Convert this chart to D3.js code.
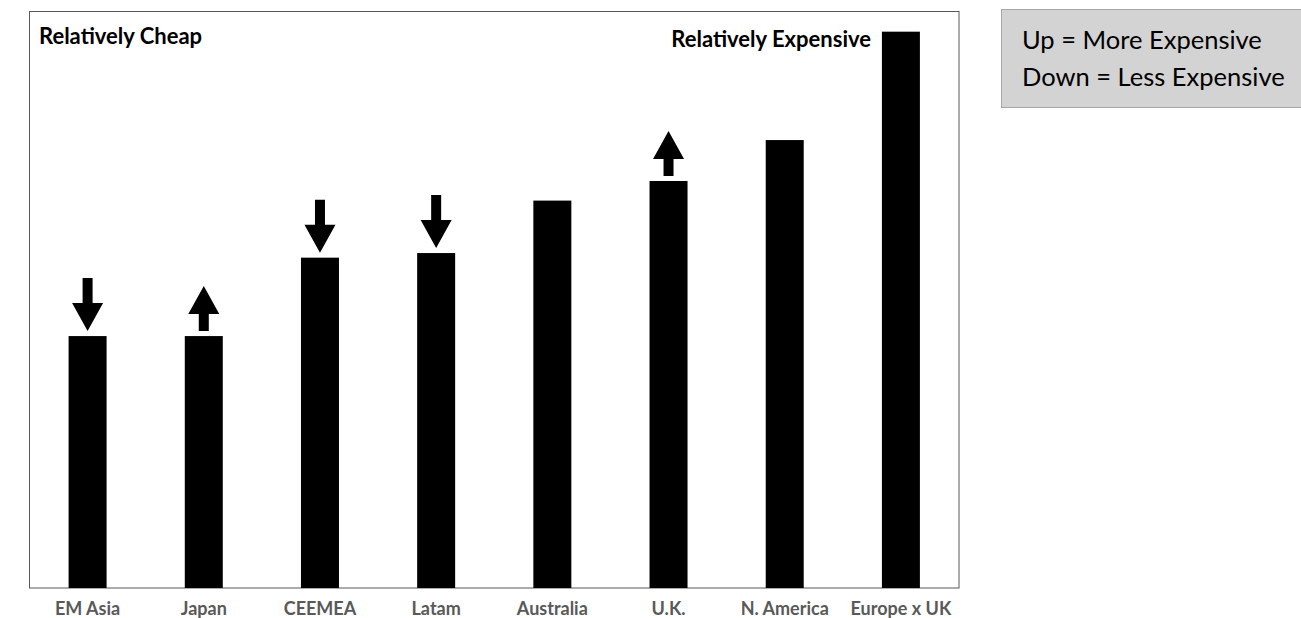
<!DOCTYPE html>
<html>
<head>
<meta charset="utf-8">
<script src="https://cdn.jsdelivr.net/npm/d3@7"></script>
<style>
  html, body { margin: 0; background: #fff; overflow: hidden; }
  svg { display: block; }
</style>
</head>
<body>
<div id="app"></div>
<script>
const WIDTH = 1301;
const HEIGHT = 618;

// chart data
const regions = ["EM Asia", "Japan", "CEEMEA", "Latam", "Australia", "U.K.", "N. America", "Europe x UK"];
const valuation = [43.7, 43.7, 57.3, 58.1, 67.2, 70.6, 77.7, 96.5];
const direction = ["down", "up", "down", "down", null, "up", null, null];
const legendLines = ["Up = More Expensive", "Down = Less Expensive"];

const FRAME = { left: 29.5, top: 11.5, right: 959, bottom: 588 };
const HEAD_W = 31, SHAFT_W = 10, HEAD_L = 28, GAP = 5;

const data = regions.map((r, i) => ({ region: r, value: valuation[i], dir: direction[i] }));

const svg = d3.select("#app")
  .append("svg")
  .attr("width", WIDTH)
  .attr("height", HEIGHT);

const x = d3.scaleBand()
  .domain(regions)
  .range([FRAME.left, FRAME.right])
  .paddingInner(0.673)
  .paddingOuter(0.3365);

const y = d3.scaleLinear()
  .domain([0, 100])
  .range([FRAME.bottom, FRAME.top]);

// plot frame
svg.append("rect")
  .attr("x", FRAME.left)
  .attr("y", FRAME.top)
  .attr("width", FRAME.right - FRAME.left)
  .attr("height", FRAME.bottom - FRAME.top)
  .attr("fill", "none")
  .attr("stroke", "#595959")
  .attr("stroke-width", 1);

svg.append("g")
  .selectAll("rect")
  .data(data)
  .join("rect")
  .attr("x", d => x(d.region))
  .attr("y", d => y(d.value))
  .attr("width", x.bandwidth())
  .attr("height", d => y(0) - y(d.value))
  .attr("fill", "#000");

// arrows above bars
function arrowPath(d) {
  const cx = x(d.region) + x.bandwidth() / 2;
  const top = y(d.value) - GAP;
  const hw = HEAD_W / 2, sw = SHAFT_W / 2;
  if (d.dir === "down") {
    const shaft = 25;
    const base = top - HEAD_L;
    return `M${cx},${top}L${cx - hw},${base}L${cx - sw},${base}L${cx - sw},${base - shaft}` +
      `L${cx + sw},${base - shaft}L${cx + sw},${base}L${cx + hw},${base}Z`;
  }
  const shaft = 17;
  const base = top - shaft;
  return `M${cx},${base - HEAD_L}L${cx - hw},${base}L${cx - sw},${base}L${cx - sw},${top}` +
    `L${cx + sw},${top}L${cx + sw},${base}L${cx + hw},${base}Z`;
}

svg.append("g")
  .selectAll("path")
  .data(data.filter(d => d.dir))
  .join("path")
  .attr("d", arrowPath)
  .attr("fill", "#000");

// category labels
const xAxis = svg.append("g")
  .attr("transform", `translate(0,${FRAME.bottom})`)
  .call(d3.axisBottom(x).tickSize(0).tickPadding(0));
xAxis.select(".domain").remove();
xAxis.selectAll("text")
  .attr("dy", null)
  .attr("y", 27)
  .attr("font-family", "Lato, sans-serif")
  .attr("font-weight", "bold")
  .attr("font-size", 18)
  .attr("fill", "#595959");

svg.append("text")
  .attr("x", 39)
  .attr("y", 44)
  .attr("font-family", "Lato, sans-serif")
  .attr("font-weight", "bold")
  .attr("font-size", 22)
  .attr("fill", "#000")
  .text("Relatively Cheap");

svg.append("text")
  .attr("x", 871)
  .attr("y", 47)
  .attr("text-anchor", "end")
  .attr("font-family", "Lato, sans-serif")
  .attr("font-weight", "bold")
  .attr("font-size", 22)
  .attr("fill", "#000")
  .text("Relatively Expensive");

// legend box
const legend = svg.append("g");
legend.append("rect")
  .attr("x", 1001.5)
  .attr("y", 9.5)
  .attr("width", 310)
  .attr("height", 98)
  .attr("fill", "#d3d3d3")
  .attr("stroke", "#a6a6a6");
legend.selectAll("text")
  .data(legendLines)
  .join("text")
  .attr("x", 1022)
  .attr("y", (d, i) => 49 + i * 37)
  .attr("font-family", "Lato, sans-serif")
  .attr("font-size", 25.5)
  .attr("fill", "#000")
  .text(d => d);
</script>
</body>
</html>
